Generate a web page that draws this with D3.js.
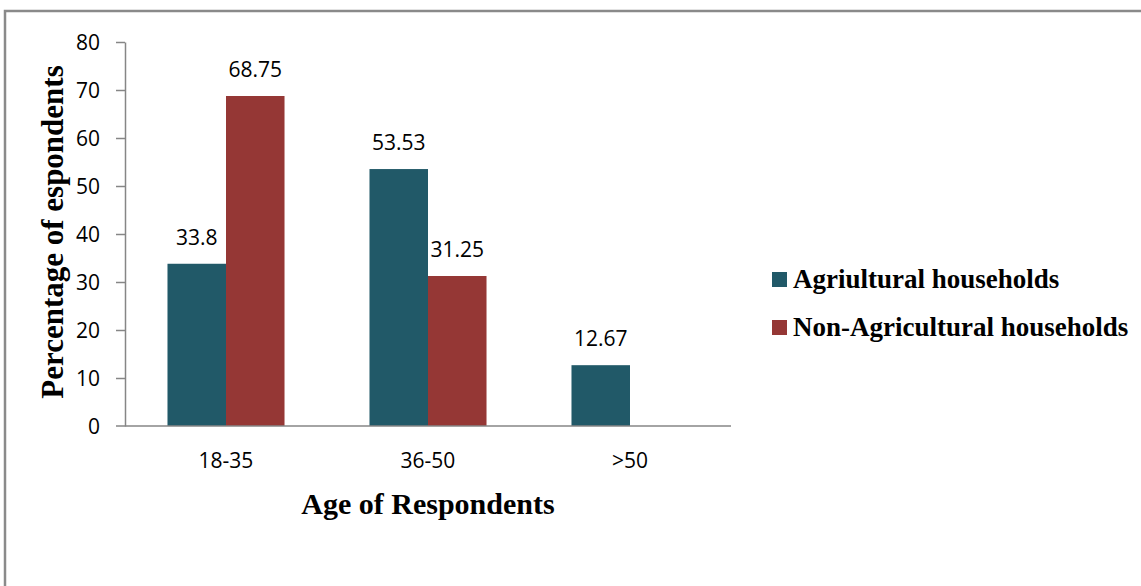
<!DOCTYPE html>
<html>
<head>
<meta charset="utf-8">
<script src="https://cdn.jsdelivr.net/npm/d3@7"></script>
<style>
  html, body { margin: 0; padding: 0; background: #fff; }
  svg { display: block; }
  .tick text, .val, .cat { font-family: "Open Sans", sans-serif; font-size: 21px; fill: #000; }
  .title, .legend text { font-family: "Liberation Serif", "Times New Roman", serif; font-weight: bold; fill: #000; }
</style>
</head>
<body>
<svg id="chart" width="1141" height="586"></svg>
<script>
// Age groups and the share of respondents in each, by household type
const categories = ["18-35", "36-50", ">50"];
const seriesNames = ["Agriultural households", "Non-Agricultural households"];
const agricultural = [33.8, 53.53, 12.67];
const nonAgricultural = [68.75, 31.25, null];
const yTicks = [0, 10, 20, 30, 40, 50, 60, 70, 80];
const colors = ["#215968", "#953735"];

const svg = d3.select("#chart");
const W = 1141, H = 586;

// chart frame (open on the right and bottom edges)
svg.append("path")
  .attr("d", `M5,${H + 2} L5,11 L${W + 2},11`)
  .attr("fill", "none")
  .attr("stroke", "#8a8a8a")
  .attr("stroke-width", 2.5);

const plot = { left: 125, right: 731, top: 42, bottom: 426 };

const x0 = d3.scaleBand().domain(categories).range([plot.left, plot.right]).padding(0);
const x1 = d3.scaleBand().domain(seriesNames).range([0, x0.bandwidth()])
  .paddingInner(0).paddingOuter(0.726);
const y = d3.scaleLinear().domain([0, 80]).range([plot.bottom, plot.top]);

// value axis
const yAxis = svg.append("g")
  .attr("transform", `translate(${plot.left},0)`)
  .call(d3.axisLeft(y).tickValues(yTicks).tickSize(9).tickSizeOuter(0).tickPadding(16));
yAxis.select(".domain").attr("stroke", "#868686").attr("stroke-width", 1.5);
yAxis.selectAll(".tick line").attr("stroke", "#868686").attr("stroke-width", 1.5);
yAxis.selectAll(".tick text").attr("dy", "0.36em");
yAxis.selectAll(".tick").filter(d => d === 0).select("line").remove();

// bars
const rows = categories.map((c, i) => ({ cat: c, values: [agricultural[i], nonAgricultural[i]] }));
const groups = svg.append("g").selectAll("g").data(rows).join("g")
  .attr("transform", d => `translate(${x0(d.cat)},0)`);

const cells = groups.selectAll("g").data(d => d.values.map((v, j) => ({ v, j })).filter(e => e.v != null))
  .join("g");
cells.append("rect")
  .attr("x", e => x1(seriesNames[e.j]))
  .attr("width", x1.bandwidth())
  .attr("y", e => y(e.v))
  .attr("height", e => y(0) - y(e.v))
  .attr("fill", e => colors[e.j]);
cells.append("text")
  .attr("class", "val")
  .attr("text-anchor", "middle")
  .attr("x", e => x1(seriesNames[e.j]) + x1.bandwidth() / 2)
  .attr("y", e => y(e.v) - 19)
  .text(e => e.v);

// category axis
svg.append("line")
  .attr("x1", plot.left - 9).attr("x2", plot.right)
  .attr("y1", y(0)).attr("y2", y(0))
  .attr("stroke", "#868686").attr("stroke-width", 1.5);
svg.append("g").selectAll("text").data(categories).join("text")
  .attr("class", "cat")
  .attr("text-anchor", "middle")
  .attr("x", d => x0(d) + x0.bandwidth() / 2)
  .attr("y", y(0) + 42)
  .text(d => d);

// axis titles
svg.append("text")
  .attr("class", "title")
  .attr("text-anchor", "middle")
  .attr("font-size", 30)
  .attr("x", (plot.left + plot.right) / 2)
  .attr("y", 514)
  .text("Age of Respondents");
svg.append("text")
  .attr("class", "title")
  .attr("text-anchor", "middle")
  .attr("font-size", 31)
  .attr("transform", "translate(63,232) rotate(-90)")
  .text("Percentage of espondents");

// legend
const legend = svg.append("g").attr("class", "legend");
const items = legend.selectAll("g").data(seriesNames).join("g")
  .attr("transform", (d, i) => `translate(772,${288 + i * 48})`);
items.append("rect")
  .attr("x", 0).attr("y", -16).attr("width", 15).attr("height", 15)
  .attr("fill", (d, i) => colors[i]);
items.append("text")
  .attr("x", 21).attr("y", 0)
  .attr("font-size", 27)
  .text(d => d);
</script>
</body>
</html>
